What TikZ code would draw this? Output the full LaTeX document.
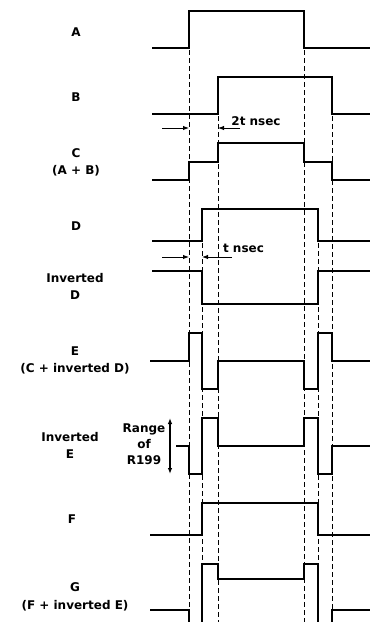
\documentclass[tikz,border=0pt]{standalone}
\usepackage{fontspec}
\setmainfont{DejaVu Sans}
\usetikzlibrary{arrows.meta}

\begin{document}
\begin{tikzpicture}[x=1pt,y=-1pt,
    wave/.style={line width=1.4pt, line join=miter},
    guide/.style={line width=0.9pt, dash pattern=on 5pt off 3pt},
    dim/.style={-{Latex[length=6pt,width=4.5pt]}, line width=1pt},
    lbl/.style={font=\fontsize{12}{17.5}\selectfont\bfseries, align=center, inner sep=0pt}
]

\useasboundingbox (0,0) rectangle (378,622);

% Edge positions
\def\xa{189}
\def\xb{202}
\def\xc{218}
\def\xd{304}
\def\xe{318}
\def\xf{332}
\def\xL{152}
\def\xR{370}

% Guide lines
\draw[guide] (\xa,50) -- (\xa,622);
\draw[guide] (\xd,50) -- (\xd,622);
\draw[guide] (\xc,116) -- (\xc,622);
\draw[guide] (\xf,116) -- (\xf,622);
\draw[guide] (\xb,243) -- (\xb,622);
\draw[guide] (\xe,243) -- (\xe,622);

% Signal A
\draw[wave] (\xL,48) -- (\xa,48) -- (\xa,11) -- (\xd,11) -- (\xd,48) -- (\xR,48);
\node[lbl] (labA) at (76,32) {A};

% Signal B
\draw[wave] (\xL,114) -- (\xc,114) -- (\xc,77) -- (\xf,77) -- (\xf,114) -- (\xR,114);
\node[lbl] (labB) at (76,97) {B};

% Delay 2t
\coordinate (twoL) at (162,128);
\coordinate (twoA) at (\xa,128);
\coordinate (twoR) at (240,128);
\coordinate (twoC) at (\xc,128);
\draw[dim] (twoL) -- (twoA);
\draw[dim] (twoR) -- (twoC);
\node[lbl] (twot) at (256,121) {2t nsec};

% Signal C
\draw[wave] (\xL,180) -- (\xa,180) -- (\xa,162) -- (\xc,162) -- (\xc,143)
    -- (\xd,143) -- (\xd,162) -- (\xf,162) -- (\xf,180) -- (\xR,180);
\node[lbl] (labC) at (76,162.5) {C\\(A + B)};

% Signal D
\draw[wave] (\xL,241) -- (\xb,241) -- (\xb,209) -- (\xe,209) -- (\xe,241) -- (\xR,241);
\node[lbl] (labD) at (76,226) {D};

% Delay t
\coordinate (oneL) at (162,257);
\coordinate (oneA) at (\xa,257);
\coordinate (oneR) at (232,257);
\coordinate (oneB) at (\xb,257);
\draw[dim] (oneL) -- (oneA);
\draw[dim] (oneR) -- (oneB);
\node[lbl] (onet) at (243.5,248) {t nsec};

% Inverted D
\draw[wave] (\xL,271) -- (\xb,271) -- (\xb,304) -- (\xe,304) -- (\xe,271) -- (\xR,271);
\node[lbl] (labID) at (75,286.5) {Inverted\\D};

% Signal E
\draw[wave] (150,361) -- (\xa,361) -- (\xa,333) -- (\xb,333) -- (\xb,389) -- (\xc,389)
    -- (\xc,361) -- (\xd,361) -- (\xd,389) -- (\xe,389) -- (\xe,333) -- (\xf,333)
    -- (\xf,361) -- (\xR,361);
\node[lbl] (labE) at (75,360.5) {E\\(C + inverted D)};

% Inverted E
\draw[wave] (176,446) -- (\xa,446) -- (\xa,474) -- (\xb,474) -- (\xb,418) -- (\xc,418)
    -- (\xc,446) -- (\xd,446) -- (\xd,418) -- (\xe,418) -- (\xe,474) -- (\xf,474)
    -- (\xf,446) -- (\xR,446);
\node[lbl] (labIE) at (70,445.5) {Inverted\\E};

% Range of R199
\coordinate (rngT) at (170,418);
\coordinate (rngB) at (170,474);
\draw[{Latex[length=6pt,width=4.5pt]}-{Latex[length=6pt,width=4.5pt]}, line width=1.1pt] (rngT) -- (rngB);
\node[lbl, font=\fontsize{12}{16}\selectfont\bfseries] (rng) at (144,444) {Range\\of\\R199};

% Signal F
\draw[wave] (150,535) -- (\xb,535) -- (\xb,503) -- (\xe,503) -- (\xe,535) -- (\xR,535);
\node[lbl] (labF) at (72,519) {F};

% Signal G
\draw[wave] (150,610) -- (\xa,610) -- (\xa,622);
\draw[wave] (\xb,622) -- (\xb,564) -- (\xc,564) -- (\xc,579) -- (\xd,579) -- (\xd,564)
    -- (\xe,564) -- (\xe,622);
\draw[wave] (\xf,622) -- (\xf,610) -- (\xR,610);
\node[lbl] (labG) at (75,597) {G\\(F + inverted E)};

\end{tikzpicture}
\end{document}
